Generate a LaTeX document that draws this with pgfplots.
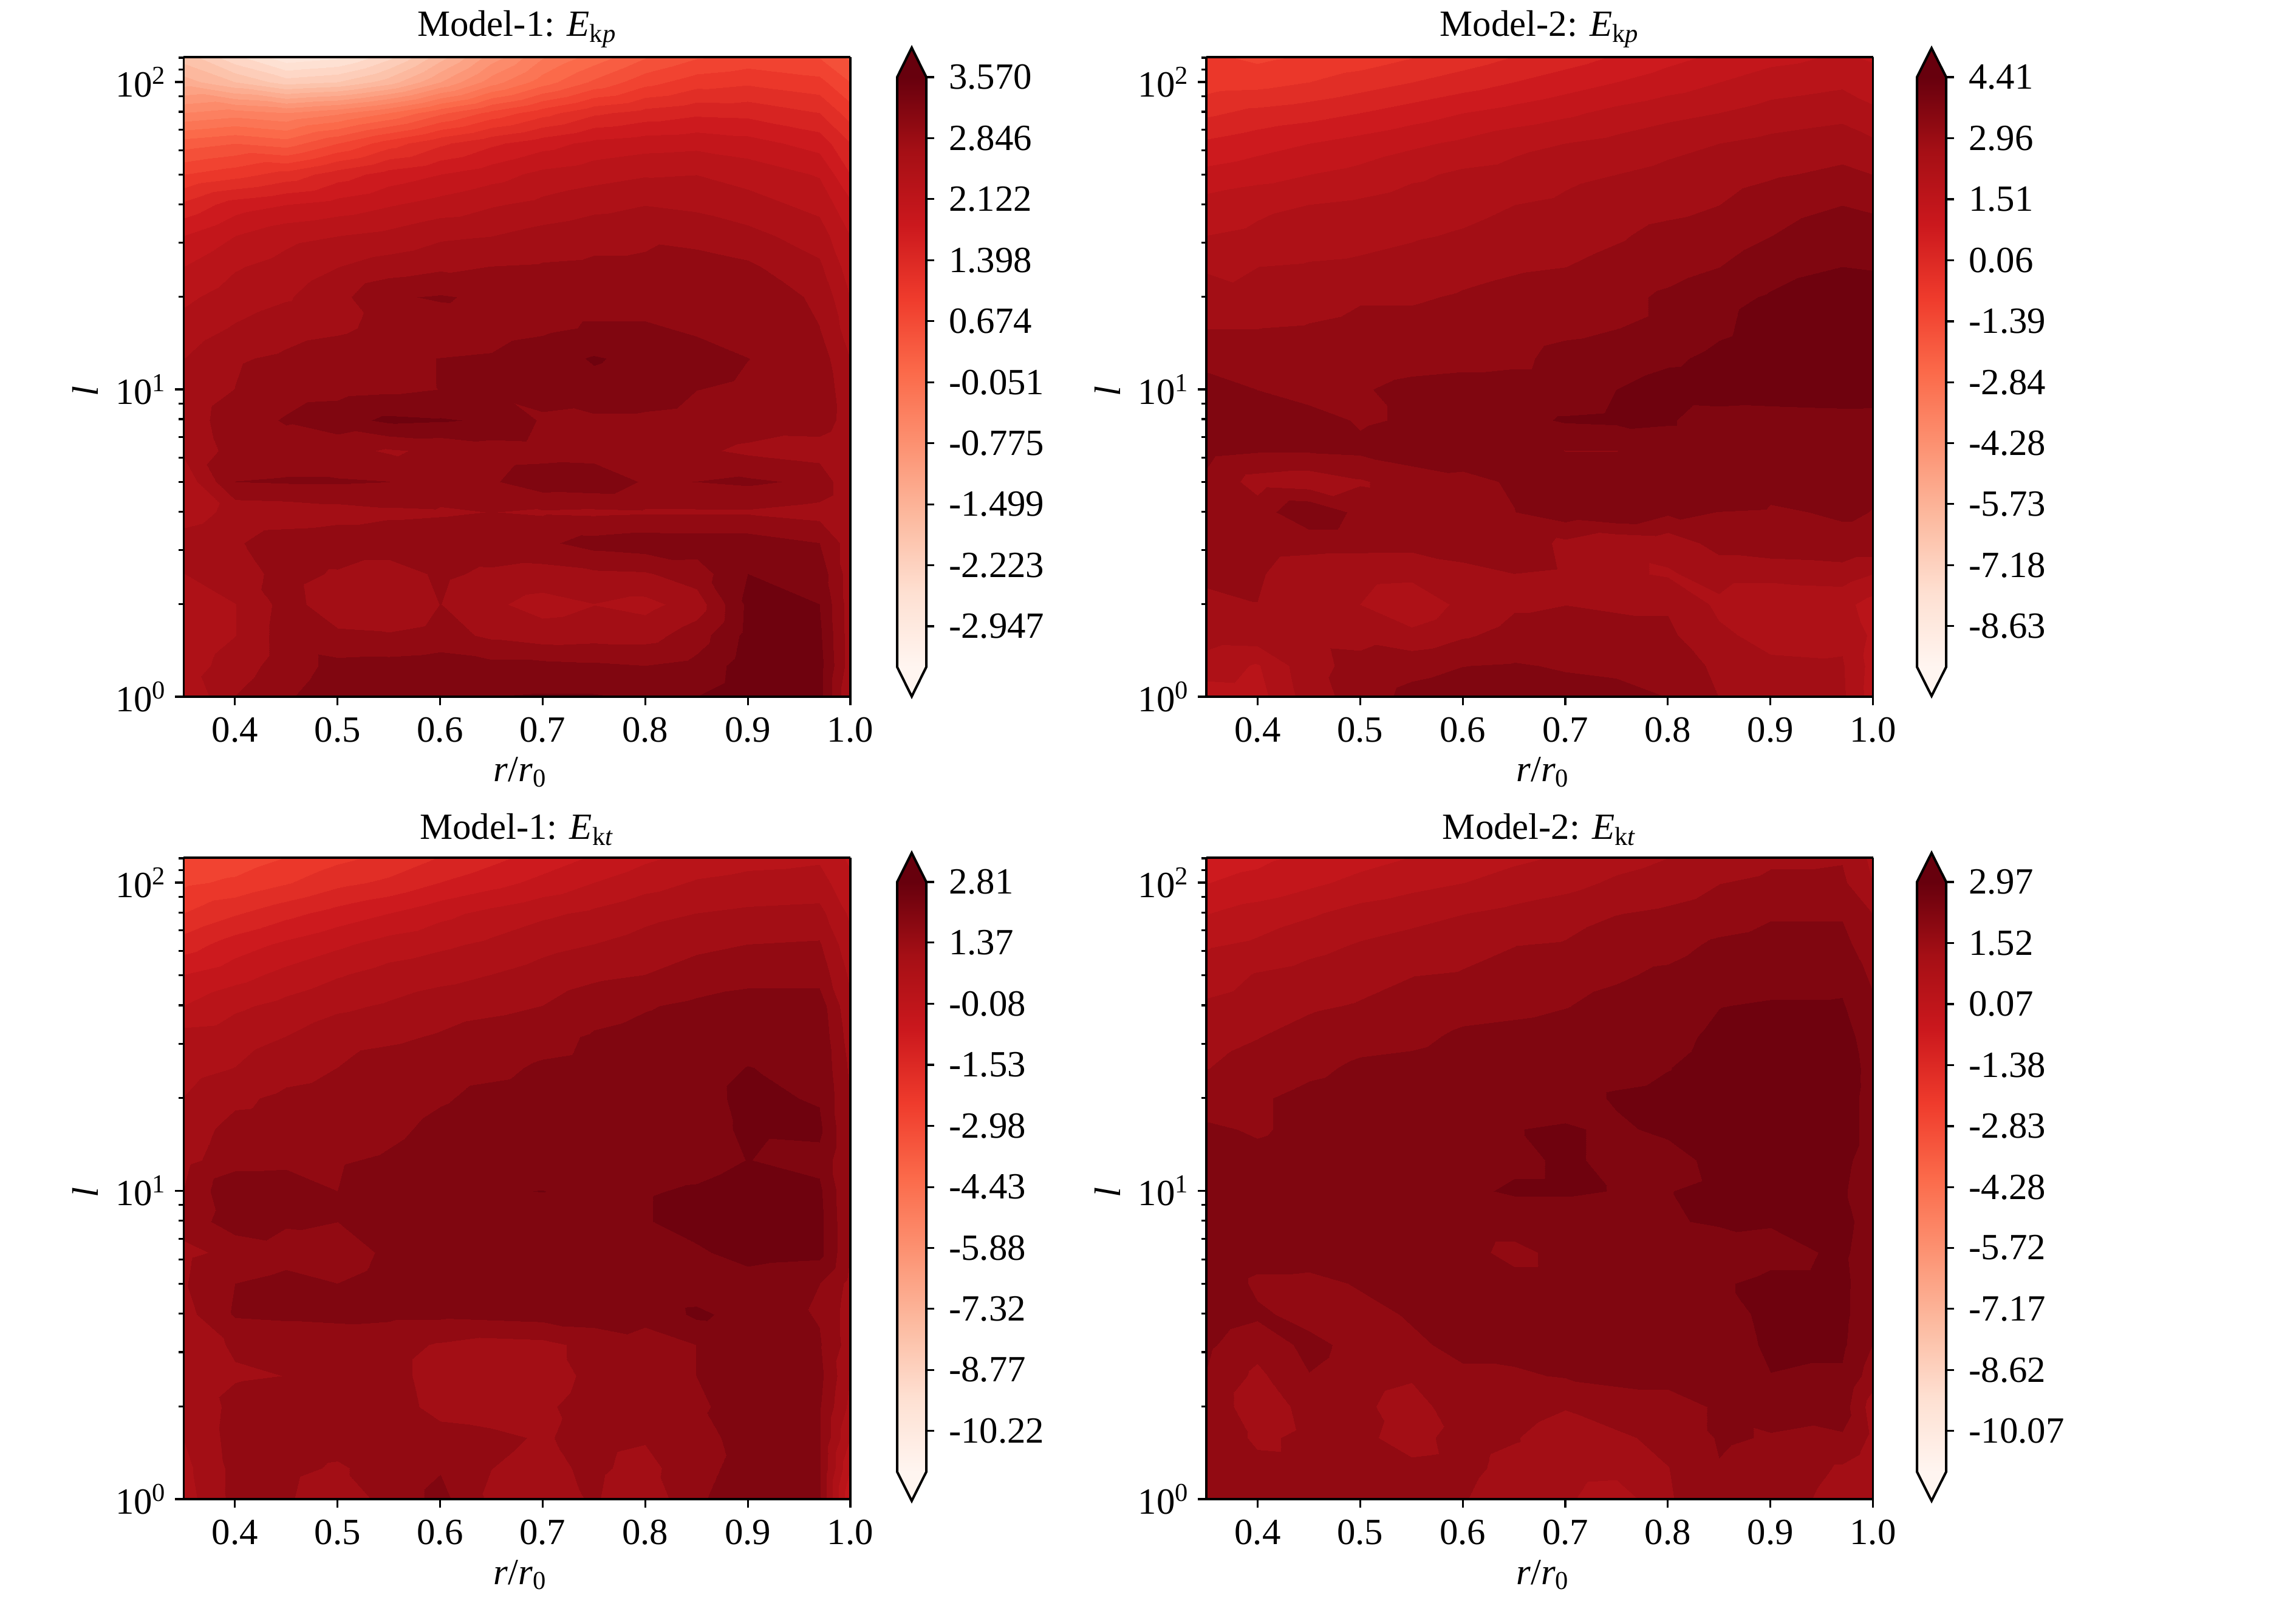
\documentclass[border=0pt]{standalone}
\usepackage{pgfplots}
\pgfplotsset{compat=1.18}
\usepgfplotslibrary{patchplots}
\usepackage{fontspec}
\setmainfont{Liberation Serif}
\pgfplotsset{
  colormap={Reds}{rgb255=(255,245,240) rgb255=(254,224,210) rgb255=(252,187,161) rgb255=(252,146,114) rgb255=(251,106,74) rgb255=(239,59,44) rgb255=(203,24,29) rgb255=(165,15,21) rgb255=(103,0,13)},
  colormap={RedsB}{rgb255(0cm)=(255,242,236); rgb255(1.117cm)=(254,224,210); rgb255(2.411cm)=(252,187,161); rgb255(3.706cm)=(252,146,114); rgb255(5cm)=(251,106,74); rgb255(6.295cm)=(239,59,44); rgb255(7.589cm)=(203,24,29); rgb255(8.883cm)=(165,15,21); rgb255(10cm)=(111,2,14)},
  colormap name=Reds,
  panelax/.style={
    colormap name=RedsB,
    scale only axis, width=274.4pt, anchor=south west,
    xmin=0.35, xmax=1.0, ymin=0, ymax=2.081, view={0}{90}, axis on top,
    tick pos=left, tick align=outside, major tick length=3.5pt, minor tick length=2.1pt,
    every tick/.style={black,line width=0.8pt}, axis line style={line width=0.9pt},
    xtick={0.4,0.5,0.6,0.7,0.8,0.9,1.0}, xticklabels={0.4,0.5,0.6,0.7,0.8,0.9,1.0},
    ytick={0,1,2}, yticklabels={10\textsuperscript{0},10\textsuperscript{1},10\textsuperscript{2}},
    minor ytick={0.301,0.477,0.602,0.699,0.778,0.845,0.903,0.954,1.301,1.477,1.602,1.699,1.778,1.845,1.903,1.954,2.041,2.079},
    xlabel={\textit{r}/\textit{r}\textsubscript{0}}, ylabel={\textit{l}},
    xlabel style={at={(axis description cs:0.505,-0.118)},anchor=center},
    ylabel style={at={(axis description cs:-0.148,0.478)},anchor=center},
    title style={at={(axis description cs:0.5,1.021)},anchor=center},
    ticklabel style={font=\fontsize{15.2}{18}\selectfont}, label style={font=\fontsize{15.2}{18}\selectfont},
    title style={font=\fontsize{15.2}{18}\selectfont},
    x tick label style={yshift=-1.5pt},
  },
  bandax/.style={
    scale only axis, width=12pt, height=242.75pt, anchor=south west, hide axis,
    xmin=0, xmax=1, ymin=0, ymax=1, view={0}{90},
  },
  cbarax/.style={
    scale only axis, width=12pt, height=242.75pt, anchor=south west,
    xmin=0, xmax=1, xtick=\empty, clip=false, axis line style={draw=none},
    ytick pos=right, yticklabel pos=right, tick align=outside, major tick length=3.3pt,
    every tick/.style={black,line width=0.8pt},
    y tick label style={font=\fontsize{15.2}{18}\selectfont,anchor=west,xshift=2.5pt},
  },
}
\begin{document}
\begin{tikzpicture}
\useasboundingbox (0pt,0pt) rectangle (945pt,659.5pt);
% ---------- Model-1 E_kp
\begin{axis}[panelax, height=263.25pt, at={(75.6pt,372.75pt)}, point meta min=-3.19, point meta max=3.81,
  title={Model-1: \textit{E}\textsubscript{k\textit{p}}}]
\addplot3[contour filled={number=29}, mesh/rows=22, mesh/cols=14] coordinates {
(.35,0,2.60)(.4,0,3.09)(.45,0,3.30)(.5,0,3.47)(.55,0,3.54)(.6,0,3.57)(.65,0,3.57)(.7,0,3.59)(.75,0,3.59)(.8,0,3.54)(.85,0,3.57)(.9,0,3.71)(.97,0,3.66)(1,0,2.84)
(.35,.1,2.72)(.4,.1,2.96)(.45,.1,3.21)(.5,.1,3.40)(.55,.1,3.42)(.6,.1,3.45)(.65,.1,3.40)(.7,.1,3.40)(.75,.1,3.37)(.8,.1,3.33)(.85,.1,3.40)(.9,.1,3.69)(.97,.1,3.66)(1,.1,2.96)
(.35,.2,2.67)(.4,.2,2.84)(.45,.2,3.21)(.5,.2,3.13)(.55,.2,3.11)(.6,.2,3.18)(.65,.2,3.04)(.7,.2,2.96)(.75,.2,2.99)(.8,.2,2.99)(.85,.2,3.21)(.9,.2,3.64)(.97,.2,3.62)(1,.2,2.96)
(.35,.3,2.72)(.4,.3,2.84)(.45,.3,3.18)(.5,.3,2.94)(.55,.3,2.87)(.6,.3,3.09)(.65,.3,2.89)(.7,.3,2.75)(.75,.3,2.84)(.8,.3,2.77)(.85,.3,2.96)(.9,.3,3.62)(.97,.3,3.57)(1,.3,2.96)
(.35,.4,2.84)(.4,.4,2.99)(.45,.4,3.16)(.5,.4,3.06)(.55,.4,2.96)(.6,.4,3.13)(.65,.4,3.04)(.7,.4,2.99)(.75,.4,3.04)(.8,.4,3.06)(.85,.4,3.21)(.9,.4,3.57)(.97,.4,3.47)(1,.4,2.96)
(.35,.5,2.96)(.4,.5,3.06)(.45,.5,3.21)(.5,.5,3.23)(.55,.5,3.23)(.6,.5,3.23)(.65,.5,3.25)(.7,.5,3.28)(.75,.5,3.42)(.8,.5,3.47)(.85,.5,3.45)(.9,.5,3.45)(.97,.5,3.33)(1,.5,2.96)
(.35,.6,2.72)(.4,.6,2.92)(.45,.6,2.94)(.5,.6,2.99)(.55,.6,3.04)(.6,.6,3.06)(.65,.6,3.09)(.7,.6,3.06)(.75,.6,3.04)(.8,.6,3.06)(.85,.6,3.06)(.9,.6,3.06)(.97,.6,2.99)(1,.6,2.84)
(.35,.7,2.67)(.4,.7,3.33)(.45,.7,3.35)(.5,.7,3.35)(.55,.7,3.33)(.6,.7,3.21)(.65,.7,3.30)(.7,.7,3.47)(.75,.7,3.50)(.8,.7,3.30)(.85,.7,3.33)(.9,.7,3.37)(.97,.7,3.28)(1,.7,2.84)
(.35,.8,2.89)(.4,.8,3.18)(.45,.8,3.21)(.5,.8,3.16)(.55,.8,3.06)(.6,.8,3.13)(.65,.8,3.21)(.7,.8,3.23)(.75,.8,3.21)(.8,.8,3.18)(.85,.8,3.13)(.9,.8,3.04)(.97,.8,2.96)(1,.8,2.84)
(.35,.9,2.96)(.4,.9,3.21)(.45,.9,3.35)(.5,.9,3.47)(.55,.9,3.62)(.6,.9,3.59)(.65,.9,3.54)(.7,.9,3.30)(.75,.9,3.28)(.8,.9,3.28)(.85,.9,3.25)(.9,.9,3.21)(.97,.9,3.23)(1,.9,2.96)
(.35,1,2.94)(.4,1,3.09)(.45,1,3.23)(.5,1,3.25)(.55,1,3.28)(.6,1,3.33)(.65,1,3.35)(.7,1,3.40)(.75,1,3.50)(.8,1,3.45)(.85,1,3.33)(.9,1,3.30)(.97,1,3.25)(1,1,2.92)
(.35,1.1,2.84)(.4,1.1,3.06)(.45,1.1,3.13)(.5,1.1,3.23)(.55,1.1,3.30)(.6,1.1,3.33)(.65,1.1,3.35)(.7,1.1,3.47)(.75,1.1,3.59)(.8,1.1,3.50)(.85,1.1,3.40)(.9,1.1,3.33)(.97,1.1,3.21)(1,1.1,2.84)
(.35,1.2,2.70)(.4,1.2,2.87)(.45,1.2,2.99)(.5,1.2,3.04)(.55,1.2,3.16)(.6,1.2,3.21)(.65,1.2,3.23)(.7,1.2,3.28)(.75,1.2,3.35)(.8,1.2,3.35)(.85,1.2,3.30)(.9,1.2,3.23)(.97,1.2,3.09)(1,1.2,2.72)
(.35,1.3,2.55)(.4,1.3,2.72)(.45,1.3,2.82)(.5,1.3,3.01)(.55,1.3,3.30)(.6,1.3,3.35)(.65,1.3,3.28)(.7,1.3,3.25)(.75,1.3,3.25)(.8,1.3,3.25)(.85,1.3,3.30)(.9,1.3,3.25)(.97,1.3,3.04)(1,1.3,2.60)
(.35,1.4,2.36)(.4,1.4,2.58)(.45,1.4,2.70)(.5,1.4,2.84)(.55,1.4,2.96)(.6,1.4,3.04)(.65,1.4,3.09)(.7,1.4,3.11)(.75,1.4,3.13)(.8,1.4,3.13)(.85,1.4,3.21)(.9,1.4,3.13)(.97,1.4,2.89)(1,1.4,2.48)
(.35,1.5,2.12)(.4,1.5,2.36)(.45,1.5,2.53)(.5,1.5,2.60)(.55,1.5,2.67)(.6,1.5,2.80)(.65,1.5,2.84)(.7,1.5,2.94)(.75,1.5,3.01)(.8,1.5,3.04)(.85,1.5,2.99)(.9,1.5,2.92)(.97,1.5,2.72)(1,1.5,2.36)
(.35,1.6,1.69)(.4,1.6,2.00)(.45,1.6,2.12)(.5,1.6,2.22)(.55,1.6,2.34)(.6,1.6,2.46)(.65,1.6,2.58)(.7,1.6,2.67)(.75,1.6,2.77)(.8,1.6,2.84)(.85,1.6,2.80)(.9,1.6,2.70)(.97,1.6,2.53)(1,1.6,2.17)
(.35,1.7,1.15)(.4,1.7,1.30)(.45,1.7,1.49)(.5,1.7,1.76)(.55,1.7,1.98)(.6,1.7,2.12)(.65,1.7,2.26)(.7,1.7,2.43)(.75,1.7,2.51)(.8,1.7,2.58)(.85,1.7,2.60)(.9,1.7,2.51)(.97,1.7,2.34)(1,1.7,1.88)
(.35,1.8,.55)(.4,1.8,.67)(.45,1.8,.55)(.5,1.8,.91)(.55,1.8,1.28)(.6,1.8,1.59)(.65,1.8,1.83)(.7,1.8,2.02)(.75,1.8,2.19)(.8,1.8,2.26)(.85,1.8,2.29)(.9,1.8,2.22)(.97,1.8,2.02)(1,1.8,1.64)
(.35,1.9,-.29)(.4,1.9,-.17)(.45,1.9,-.29)(.5,1.9,-.10)(.55,1.9,.19)(.6,1.9,.62)(.65,1.9,.99)(.7,1.9,1.30)(.75,1.9,1.59)(.8,1.9,1.73)(.85,1.9,1.83)(.9,1.9,1.81)(.97,1.9,1.64)(1,1.9,1.28)
(.35,2,-1.14)(.4,2,-1.50)(.45,2,-1.86)(.5,2,-1.74)(.55,2,-1.38)(.6,2,-.78)(.65,2,-.17)(.7,2,.31)(.75,2,.72)(.8,2,1.06)(.85,2,1.28)(.9,2,1.35)(.97,2,1.23)(1,2,.91)
(.35,2.1,-1.74)(.4,2.1,-2.34)(.45,2.1,-2.83)(.5,2.1,-2.71)(.55,2.1,-2.22)(.6,2.1,-1.50)(.65,2.1,-.78)(.7,2.1,-.17)(.75,2.1,.19)(.8,2.1,.55)(.85,2.1,.79)(.9,2.1,.91)(.97,2.1,.82)(1,2.1,.55)
};
\end{axis}
% ---------- Model-2 E_kp
\begin{axis}[panelax, height=263.25pt, at={(496.5pt,372.75pt)}, point meta min=-9.113, point meta max=4.893,
  title={Model-2: \textit{E}\textsubscript{k\textit{p}}}]
\addplot3[contour filled={number=29}, mesh/rows=22, mesh/cols=14] coordinates {
(.35,0,2.23)(.4,0,2.28)(.45,0,3.20)(.5,0,3.68)(.55,0,4.07)(.6,0,4.17)(.65,0,4.17)(.7,0,4.12)(.75,0,4.07)(.8,0,3.92)(.85,0,3.44)(.9,0,3.10)(.97,0,3.05)(1,0,2.23)
(.35,.1,2.72)(.4,.1,2.43)(.45,.1,3.30)(.5,.1,3.59)(.55,.1,3.78)(.6,.1,3.92)(.65,.1,3.97)(.7,.1,3.88)(.75,.1,3.83)(.8,.1,3.73)(.85,.1,3.34)(.9,.1,3.05)(.97,.1,3.01)(1,.1,2.28)
(.35,.2,3.20)(.4,.2,3.25)(.45,.2,3.34)(.5,.2,3.30)(.55,.2,3.10)(.6,.2,3.39)(.65,.2,3.59)(.7,.2,3.59)(.75,.2,3.59)(.8,.2,3.54)(.85,.2,3.05)(.9,.2,2.81)(.97,.2,2.86)(1,.2,2.38)
(.35,.3,3.39)(.4,.3,3.44)(.45,.3,3.15)(.5,.3,2.96)(.55,.3,2.57)(.6,.3,3.10)(.65,.3,3.39)(.7,.3,3.44)(.75,.3,3.39)(.8,.3,3.39)(.85,.3,2.86)(.9,.3,2.48)(.97,.3,2.62)(1,.3,2.28)
(.35,.4,3.49)(.4,.4,3.49)(.45,.4,3.20)(.5,.4,3.15)(.55,.4,3.10)(.6,.4,3.30)(.65,.4,3.44)(.7,.4,3.39)(.75,.4,3.05)(.8,.4,2.91)(.85,.4,3.15)(.9,.4,3.15)(.97,.4,3.20)(1,.4,2.96)
(.35,.5,3.59)(.4,.5,3.63)(.45,.5,3.59)(.5,.5,3.59)(.55,.5,3.59)(.6,.5,3.68)(.65,.5,3.73)(.7,.5,3.34)(.75,.5,3.05)(.8,.5,3.15)(.85,.5,3.63)(.9,.5,3.73)(.97,.5,3.83)(1,.5,3.83)
(.35,.6,3.59)(.4,.6,3.68)(.45,.6,4.36)(.5,.6,3.78)(.55,.6,3.68)(.6,.6,3.73)(.65,.6,3.92)(.7,.6,4.21)(.75,.6,4.41)(.8,.6,4.02)(.85,.6,3.92)(.9,.6,3.88)(.97,.6,3.97)(1,.6,3.92)
(.35,.7,3.83)(.4,.7,3.25)(.45,.7,3.15)(.5,.7,3.39)(.55,.7,3.68)(.6,.7,3.83)(.65,.7,3.97)(.7,.7,4.12)(.75,.7,4.12)(.8,.7,4.36)(.85,.7,4.41)(.9,.7,4.07)(.97,.7,4.02)(1,.7,3.97)
(.35,.8,4.07)(.4,.8,3.97)(.45,.8,3.97)(.5,.8,4.02)(.55,.8,4.17)(.6,.8,4.12)(.65,.8,4.21)(.7,.8,3.92)(.75,.8,3.92)(.8,.8,4.17)(.85,.8,4.17)(.9,.8,4.12)(.97,.8,4.41)(1,.8,4.41)
(.35,.9,4.17)(.4,.9,4.17)(.45,.9,4.12)(.5,.9,3.88)(.55,.9,3.97)(.6,.9,4.02)(.65,.9,4.26)(.7,.9,4.46)(.75,.9,4.50)(.8,.9,4.46)(.85,.9,4.17)(.9,.9,4.12)(.97,.9,4.17)(1,.9,4.17)
(.35,1,4.36)(.4,1,3.92)(.45,1,3.73)(.5,1,3.88)(.55,1,4.07)(.6,1,4.12)(.65,1,4.12)(.7,1,4.12)(.75,1,4.41)(.8,1,4.65)(.85,1,4.70)(.9,1,4.75)(.97,1,4.79)(1,1,4.75)
(.35,1.1,3.59)(.4,1.1,3.63)(.45,1.1,3.63)(.5,1.1,3.63)(.55,1.1,3.73)(.6,1.1,3.78)(.65,1.1,3.83)(.7,1.1,4.07)(.75,1.1,4.12)(.8,1.1,4.31)(.85,1.1,4.55)(.9,1.1,4.70)(.97,1.1,4.79)(1,1.1,4.79)
(.35,1.2,3.44)(.4,1.2,3.44)(.45,1.2,3.49)(.5,1.2,3.59)(.55,1.2,3.59)(.6,1.2,3.68)(.65,1.2,3.73)(.7,1.2,3.83)(.75,1.2,3.92)(.8,1.2,4.02)(.85,1.2,4.31)(.9,1.2,4.65)(.97,1.2,4.79)(1,1.2,4.79)
(.35,1.3,3.15)(.4,1.3,3.01)(.45,1.3,3.20)(.5,1.3,3.39)(.55,1.3,3.39)(.6,1.3,3.49)(.65,1.3,3.59)(.7,1.3,3.68)(.75,1.3,3.78)(.8,1.3,4.02)(.85,1.3,4.26)(.9,1.3,4.46)(.97,1.3,4.75)(1,1.3,4.75)
(.35,1.4,2.91)(.4,1.4,2.96)(.45,1.4,3.01)(.5,1.4,3.05)(.55,1.4,3.15)(.6,1.4,3.30)(.65,1.4,3.39)(.7,1.4,3.44)(.75,1.4,3.59)(.8,1.4,3.73)(.85,1.4,3.92)(.9,1.4,4.21)(.97,1.4,4.41)(1,1.4,4.36)
(.35,1.5,2.48)(.4,1.5,2.57)(.45,1.5,2.72)(.5,1.5,2.81)(.55,1.5,2.91)(.6,1.5,3.01)(.65,1.5,3.15)(.7,1.5,3.25)(.75,1.5,3.39)(.8,1.5,3.59)(.85,1.5,3.68)(.9,1.5,3.92)(.97,1.5,4.26)(1,1.5,4.17)
(.35,1.6,2.19)(.4,1.6,2.38)(.45,1.6,2.48)(.5,1.6,2.57)(.55,1.6,2.72)(.6,1.6,2.81)(.65,1.6,2.96)(.7,1.6,3.05)(.75,1.6,3.20)(.8,1.6,3.30)(.85,1.6,3.44)(.9,1.6,3.68)(.97,1.6,3.92)(1,1.6,3.83)
(.35,1.7,1.65)(.4,1.7,1.80)(.45,1.7,1.99)(.5,1.7,2.14)(.55,1.7,2.38)(.6,1.7,2.57)(.65,1.7,2.67)(.7,1.7,2.86)(.75,1.7,2.96)(.8,1.7,3.10)(.85,1.7,3.25)(.9,1.7,3.39)(.97,1.7,3.54)(1,1.7,3.44)
(.35,1.8,1.12)(.4,1.8,1.32)(.45,1.8,1.51)(.5,1.8,1.70)(.55,1.8,1.90)(.6,1.8,2.09)(.65,1.8,2.33)(.7,1.8,2.48)(.75,1.8,2.62)(.8,1.8,2.81)(.85,1.8,2.96)(.9,1.8,3.10)(.97,1.8,3.25)(1,1.8,3.05)
(.35,1.9,.45)(.4,1.9,.69)(.45,1.9,.83)(.5,1.9,1.03)(.55,1.9,1.27)(.6,1.9,1.51)(.65,1.9,1.70)(.7,1.9,1.90)(.75,1.9,2.14)(.8,1.9,2.33)(.85,1.9,2.48)(.9,1.9,2.67)(.97,1.9,2.81)(1,1.9,2.57)
(.35,2,-.18)(.4,2,-.13)(.45,2,.06)(.5,2,.30)(.55,2,.54)(.6,2,.78)(.65,2,1.03)(.7,2,1.27)(.75,2,1.51)(.8,2,1.75)(.85,2,1.99)(.9,2,2.23)(.97,2,2.38)(1,2,2.23)
(.35,2.1,-.42)(.4,2.1,-.62)(.45,2.1,-.47)(.5,2.1,-.33)(.55,2.1,-.08)(.6,2.1,.16)(.65,2.1,.45)(.7,2.1,.69)(.75,2.1,.98)(.8,2.1,1.27)(.85,2.1,1.51)(.9,2.1,1.75)(.97,2.1,1.99)(1,2.1,1.85)
};
\end{axis}
% ---------- Model-1 E_kt
\begin{axis}[panelax, height=264pt, at={(75.6pt,42.5pt)}, point meta min=-10.702, point meta max=3.293,
  title={Model-1: \textit{E}\textsubscript{k\textit{t}}}]
\addplot3[contour filled={number=29}, mesh/rows=22, mesh/cols=14] coordinates {
(.35,0,1.13)(.4,0,2.00)(.45,0,1.90)(.5,0,1.56)(.55,0,2.00)(.6,0,2.48)(.65,0,1.75)(.7,0,1.61)(.75,0,1.90)(.8,0,1.46)(.85,0,2.29)(.9,0,2.48)(.97,0,2.43)(1,0,-.08)
(.35,.1,1.22)(.4,.1,2.00)(.45,.1,1.95)(.5,.1,1.80)(.55,.1,2.00)(.6,.1,2.29)(.65,.1,1.85)(.7,.1,1.71)(.75,.1,1.95)(.8,.1,1.66)(.85,.1,2.24)(.9,.1,2.43)(.97,.1,2.38)(1,.1,.40)
(.35,.2,1.37)(.4,.2,2.04)(.45,.2,2.04)(.5,.2,2.00)(.55,.2,2.04)(.6,.2,2.00)(.65,.2,1.95)(.7,.2,1.80)(.75,.2,2.00)(.8,.2,1.90)(.85,.2,2.19)(.9,.2,2.48)(.97,.2,2.38)(1,.2,.89)
(.35,.3,1.42)(.4,.3,2.00)(.45,.3,2.09)(.5,.3,2.09)(.55,.3,2.04)(.6,.3,1.71)(.65,.3,1.61)(.7,.3,1.75)(.75,.3,2.09)(.8,.3,2.14)(.85,.3,2.29)(.9,.3,2.43)(.97,.3,2.38)(1,.3,1.22)
(.35,.4,1.51)(.4,.4,1.80)(.45,.4,1.85)(.5,.4,2.04)(.55,.4,2.00)(.6,.4,1.66)(.65,.4,1.51)(.7,.4,1.56)(.75,.4,2.00)(.8,.4,2.09)(.85,.4,2.33)(.9,.4,2.43)(.97,.4,2.48)(1,.4,1.37)
(.35,.5,1.61)(.4,.5,1.90)(.45,.5,1.95)(.5,.5,1.95)(.55,.5,2.00)(.6,.5,1.80)(.65,.5,1.66)(.7,.5,1.71)(.75,.5,2.00)(.8,.5,2.19)(.85,.5,2.33)(.9,.5,2.43)(.97,.5,2.38)(1,.5,1.61)
(.35,.6,1.66)(.4,.6,2.38)(.45,.6,2.43)(.5,.6,2.48)(.55,.6,2.43)(.6,.6,2.43)(.65,.6,2.48)(.7,.6,2.53)(.75,.6,2.58)(.8,.6,2.43)(.85,.6,2.91)(.9,.6,2.62)(.97,.6,2.29)(1,.6,1.61)
(.35,.7,1.80)(.4,.7,2.33)(.45,.7,2.48)(.5,.7,2.33)(.55,.7,2.43)(.6,.7,2.48)(.65,.7,2.48)(.7,.7,2.48)(.75,.7,2.48)(.8,.7,2.48)(.85,.7,2.53)(.9,.7,2.53)(.97,.7,2.33)(1,.7,1.71)
(.35,.8,1.75)(.4,.8,1.95)(.45,.8,2.14)(.5,.8,2.19)(.55,.8,2.38)(.6,.8,2.48)(.65,.8,2.48)(.7,.8,2.53)(.75,.8,2.53)(.8,.8,2.53)(.85,.8,2.72)(.9,.8,3.04)(.97,.8,2.96)(1,.8,1.85)
(.35,.9,2.00)(.4,.9,2.62)(.45,.9,2.38)(.5,.9,2.33)(.55,.9,2.48)(.6,.9,2.58)(.65,.9,2.62)(.7,.9,2.58)(.75,.9,2.58)(.8,.9,2.77)(.85,.9,3.04)(.9,.9,3.11)(.97,.9,2.96)(1,.9,1.85)
(.35,1,1.85)(.4,1,2.77)(.45,1,2.77)(.5,1,2.33)(.55,1,2.58)(.6,1,2.62)(.65,1,2.77)(.7,1,2.82)(.75,1,2.67)(.8,1,2.77)(.85,1,2.87)(.9,1,3.04)(.97,1,2.91)(1,1,1.85)
(.35,1.1,1.71)(.4,1.1,2.09)(.45,1.1,2.14)(.5,1.1,2.29)(.55,1.1,2.38)(.6,1.1,2.53)(.65,1.1,2.53)(.7,1.1,2.58)(.75,1.1,2.58)(.8,1.1,2.58)(.85,1.1,2.62)(.9,1.1,2.82)(.97,1.1,2.67)(1,1.1,1.85)
(.35,1.2,1.61)(.4,1.2,2.00)(.45,1.2,2.04)(.5,1.2,2.09)(.55,1.2,2.24)(.6,1.2,2.43)(.65,1.2,2.53)(.7,1.2,2.53)(.75,1.2,2.58)(.8,1.2,2.58)(.85,1.2,2.67)(.9,1.2,2.87)(.97,1.2,2.91)(1,1.2,1.85)
(.35,1.3,1.37)(.4,1.3,1.75)(.45,1.3,1.95)(.5,1.3,2.04)(.55,1.3,2.14)(.6,1.3,2.29)(.65,1.3,2.43)(.7,1.3,2.48)(.75,1.3,2.53)(.8,1.3,2.53)(.85,1.3,2.67)(.9,1.3,2.91)(.97,1.3,2.77)(1,1.3,1.85)
(.35,1.4,1.17)(.4,1.4,1.37)(.45,1.4,1.66)(.5,1.4,1.85)(.55,1.4,2.09)(.6,1.4,2.19)(.65,1.4,2.24)(.7,1.4,2.38)(.75,1.4,2.43)(.8,1.4,2.53)(.85,1.4,2.67)(.9,1.4,2.82)(.97,1.4,2.72)(1,1.4,1.75)
(.35,1.5,1.08)(.4,1.5,1.17)(.45,1.5,1.37)(.5,1.5,1.66)(.55,1.5,1.75)(.6,1.5,1.90)(.65,1.5,2.09)(.7,1.5,2.19)(.75,1.5,2.38)(.8,1.5,2.48)(.85,1.5,2.58)(.9,1.5,2.67)(.97,1.5,2.67)(1,1.5,1.61)
(.35,1.6,.40)(.4,1.6,.79)(.45,1.6,1.03)(.5,1.6,1.27)(.55,1.6,1.42)(.6,1.6,1.61)(.65,1.6,1.71)(.7,1.6,1.85)(.75,1.6,2.14)(.8,1.6,2.29)(.85,1.6,2.43)(.9,1.6,2.58)(.97,1.6,2.58)(1,1.6,1.46)
(.35,1.7,-.08)(.4,1.7,.21)(.45,1.7,.55)(.5,1.7,.84)(.55,1.7,1.08)(.6,1.7,1.22)(.65,1.7,1.37)(.7,1.7,1.56)(.75,1.7,1.75)(.8,1.7,1.85)(.85,1.7,2.04)(.9,1.7,2.14)(.97,1.7,2.14)(1,1.7,1.27)
(.35,1.8,-.81)(.4,1.8,-.32)(.45,1.8,.02)(.5,1.8,.31)(.55,1.8,.60)(.6,1.8,.79)(.65,1.8,.98)(.7,1.8,1.22)(.75,1.8,1.37)(.8,1.8,1.56)(.85,1.8,1.75)(.9,1.8,1.85)(.97,1.8,1.90)(1,1.8,1.03)
(.35,1.9,-1.53)(.4,1.9,-1.10)(.45,1.9,-.71)(.5,1.9,-.37)(.55,1.9,-.08)(.6,1.9,.26)(.65,1.9,.55)(.7,1.9,.79)(.75,1.9,.98)(.8,1.9,1.22)(.85,1.9,1.37)(.9,1.9,1.46)(.97,1.9,1.51)(1,1.9,.79)
(.35,2,-2.11)(.4,2,-1.92)(.45,2,-1.58)(.5,2,-1.19)(.55,2,-.95)(.6,2,-.56)(.65,2,-.27)(.7,2,.06)(.75,2,.40)(.8,2,.69)(.85,2,.93)(.9,2,1.03)(.97,2,1.08)(1,2,.50)
(.35,2.1,-2.50)(.4,2.1,-2.40)(.45,2.1,-2.11)(.5,2.1,-1.77)(.55,2.1,-1.53)(.6,2.1,-1.14)(.65,2.1,-.81)(.7,2.1,-.47)(.75,2.1,-.13)(.8,2.1,.21)(.85,2.1,.50)(.9,2.1,.64)(.97,2.1,.74)(1,2.1,.26)
};
\end{axis}
% ---------- Model-2 E_kt
\begin{axis}[panelax, height=264pt, at={(496.5pt,42.5pt)}, point meta min=-10.557, point meta max=3.453,
  title={Model-2: \textit{E}\textsubscript{k\textit{t}}}]
\addplot3[contour filled={number=29}, mesh/rows=22, mesh/cols=14] coordinates {
(.35,0,2.47)(.4,0,2.14)(.45,0,2.04)(.5,0,2.04)(.55,0,2.04)(.6,0,2.04)(.65,0,1.70)(.7,0,1.60)(.75,0,1.22)(.8,0,1.94)(.85,0,2.47)(.9,0,2.28)(.97,0,1.80)(1,0,1.65)
(.35,.1,2.47)(.4,.1,2.18)(.45,.1,2.14)(.5,.1,2.09)(.55,.1,2.09)(.6,.1,2.14)(.65,.1,1.85)(.7,.1,1.75)(.75,.1,1.70)(.8,.1,1.99)(.85,.1,2.47)(.9,.1,2.38)(.97,.1,1.94)(1,.1,1.65)
(.35,.2,2.47)(.4,.2,1.89)(.45,.2,2.14)(.5,.2,2.09)(.55,.2,1.85)(.6,.2,2.18)(.65,.2,2.04)(.7,.2,1.70)(.75,.2,1.89)(.8,.2,2.18)(.85,.2,2.52)(.9,.2,2.47)(.97,.2,2.43)(1,.2,1.89)
(.35,.3,2.47)(.4,.3,1.60)(.45,.3,2.23)(.5,.3,2.14)(.55,.3,1.70)(.6,.3,2.43)(.65,.3,2.28)(.7,.3,2.04)(.75,.3,2.33)(.8,.3,2.38)(.85,.3,2.52)(.9,.3,2.57)(.97,.3,2.72)(1,.3,1.75)
(.35,.4,2.47)(.4,.4,1.89)(.45,.4,2.47)(.5,.4,2.28)(.55,.4,2.09)(.6,.4,2.43)(.65,.4,2.43)(.7,.4,2.52)(.75,.4,2.57)(.8,.4,2.57)(.85,.4,2.72)(.9,.4,2.96)(.97,.4,2.91)(1,.4,2.23)
(.35,.5,2.57)(.4,.5,2.18)(.45,.5,2.62)(.5,.5,2.33)(.55,.5,2.43)(.6,.5,2.57)(.65,.5,2.62)(.7,.5,2.67)(.75,.5,2.67)(.8,.5,2.67)(.85,.5,2.72)(.9,.5,3.05)(.97,.5,3.05)(1,.5,2.47)
(.35,.6,2.76)(.4,.6,2.57)(.45,.6,2.33)(.5,.6,2.38)(.55,.6,2.52)(.6,.6,2.67)(.65,.6,2.67)(.7,.6,2.67)(.75,.6,2.67)(.8,.6,2.72)(.85,.6,2.76)(.9,.6,3.10)(.97,.6,3.10)(1,.6,2.57)
(.35,.7,2.96)(.4,.7,2.38)(.45,.7,2.38)(.5,.7,2.52)(.55,.7,2.62)(.6,.7,2.67)(.65,.7,2.67)(.7,.7,2.67)(.75,.7,2.67)(.8,.7,2.72)(.85,.7,2.91)(.9,.7,3.10)(.97,.7,3.10)(1,.7,2.62)
(.35,.8,2.96)(.4,.8,2.72)(.45,.8,2.67)(.5,.8,2.62)(.55,.8,2.91)(.6,.8,2.67)(.65,.8,2.33)(.7,.8,2.67)(.75,.8,2.72)(.8,.8,2.67)(.85,.8,2.57)(.9,.8,2.81)(.97,.8,3.05)(1,.8,2.72)
(.35,.9,2.96)(.4,.9,2.76)(.45,.9,2.72)(.5,.9,2.76)(.55,.9,2.96)(.6,.9,2.76)(.65,.9,2.76)(.7,.9,2.76)(.75,.9,2.76)(.8,.9,2.91)(.85,.9,3.05)(.9,.9,3.01)(.97,.9,3.10)(1,.9,2.76)
(.35,1,2.72)(.4,1,2.72)(.45,1,2.76)(.5,1,2.76)(.55,1,2.81)(.6,1,2.91)(.65,1,3.01)(.7,1,3.01)(.75,1,2.96)(.8,1,2.96)(.85,1,3.05)(.9,1,3.01)(.97,1,3.01)(1,1,2.76)
(.35,1.1,2.62)(.4,1.1,2.62)(.45,1.1,2.72)(.5,1.1,2.76)(.55,1.1,2.81)(.6,1.1,2.81)(.65,1.1,2.91)(.7,1.1,3.01)(.75,1.1,2.91)(.8,1.1,2.81)(.85,1.1,3.10)(.9,1.1,3.10)(.97,1.1,3.05)(1,1.1,2.81)
(.35,1.2,2.57)(.4,1.2,2.43)(.45,1.2,2.62)(.5,1.2,2.72)(.55,1.2,2.76)(.6,1.2,2.81)(.65,1.2,2.96)(.7,1.2,3.01)(.75,1.2,2.91)(.8,1.2,3.05)(.85,1.2,3.15)(.9,1.2,3.15)(.97,1.2,3.15)(1,1.2,2.81)
(.35,1.3,2.23)(.4,1.3,2.43)(.45,1.3,2.62)(.5,1.3,2.72)(.55,1.3,2.72)(.6,1.3,2.72)(.65,1.3,2.76)(.7,1.3,2.81)(.75,1.3,3.01)(.8,1.3,3.05)(.85,1.3,3.10)(.9,1.3,3.15)(.97,1.3,3.15)(1,1.3,2.81)
(.35,1.4,1.99)(.4,1.4,2.18)(.45,1.4,2.38)(.5,1.4,2.57)(.55,1.4,2.62)(.6,1.4,2.72)(.65,1.4,2.67)(.7,1.4,2.81)(.75,1.4,2.86)(.8,1.4,2.96)(.85,1.4,3.10)(.9,1.4,3.15)(.97,1.4,3.20)(1,1.4,2.81)
(.35,1.5,1.85)(.4,1.5,1.99)(.45,1.5,2.18)(.5,1.5,2.33)(.55,1.5,2.38)(.6,1.5,2.57)(.65,1.5,2.62)(.7,1.5,2.67)(.75,1.5,2.76)(.8,1.5,2.86)(.85,1.5,3.05)(.9,1.5,3.15)(.97,1.5,3.15)(1,1.5,2.72)
(.35,1.6,1.60)(.4,1.6,1.75)(.45,1.6,1.94)(.5,1.6,2.04)(.55,1.6,2.18)(.6,1.6,2.33)(.65,1.6,2.38)(.7,1.6,2.47)(.75,1.6,2.62)(.8,1.6,2.76)(.85,1.6,2.96)(.9,1.6,3.01)(.97,1.6,3.01)(1,1.6,2.57)
(.35,1.7,1.27)(.4,1.7,1.56)(.45,1.7,1.70)(.5,1.7,1.85)(.55,1.7,1.99)(.6,1.7,2.04)(.65,1.7,2.18)(.7,1.7,2.33)(.75,1.7,2.43)(.8,1.7,2.57)(.85,1.7,2.76)(.9,1.7,2.81)(.97,1.7,2.86)(1,1.7,2.38)
(.35,1.8,.98)(.4,1.8,1.12)(.45,1.8,1.36)(.5,1.8,1.56)(.55,1.8,1.70)(.6,1.8,1.85)(.65,1.8,1.99)(.7,1.8,2.04)(.75,1.8,2.28)(.8,1.8,2.33)(.85,1.8,2.57)(.9,1.8,2.67)(.97,1.8,2.67)(1,1.8,2.09)
(.35,1.9,.54)(.4,1.9,.78)(.45,1.9,.98)(.5,1.9,1.22)(.55,1.9,1.36)(.6,1.9,1.51)(.65,1.9,1.65)(.7,1.9,1.80)(.75,1.9,1.99)(.8,1.9,2.09)(.85,1.9,2.23)(.9,1.9,2.43)(.97,1.9,2.43)(1,1.9,1.99)
(.35,2,.06)(.4,2,.20)(.45,2,.45)(.5,2,.69)(.55,2,.88)(.6,2,1.03)(.65,2,1.22)(.7,2,1.36)(.75,2,1.60)(.8,2,1.75)(.85,2,1.99)(.9,2,2.09)(.97,2,2.09)(1,2,1.51)
(.35,2.1,-.18)(.4,2.1,-.09)(.45,2.1,.06)(.5,2.1,.30)(.55,2.1,.49)(.6,2.1,.69)(.65,2.1,.88)(.7,2.1,1.03)(.75,2.1,1.27)(.8,2.1,1.46)(.85,2.1,1.70)(.9,2.1,1.89)(.97,2.1,1.94)(1,2.1,1.36)
};
\end{axis}
% ---------- colour bars
\begin{axis}[bandax, at={(369.25pt,385pt)}, point meta min=-3.43, point meta max=3.57]
\addplot3[surf, shader=interp, mesh/rows=2, mesh/cols=2] coordinates {(0,0,-3.43)(1,0,-3.43)(0,1,3.57)(1,1,3.57)};
\end{axis}
\begin{axis}[cbarax, at={(369.25pt,385pt)}, ymin=-3.43, ymax=3.57,
 ytick={-2.947,-2.223,-1.499,-0.775,-0.051,0.674,1.398,2.122,2.846,3.570},
 yticklabels={-2.947,-2.223,-1.499,-0.775,-0.051,0.674,1.398,2.122,2.846,3.570}]
\addplot[draw=none,fill={rgb,255:red,103;green,0;blue,13}] coordinates {(0,3.57)(0.5,3.92)(1,3.57)} -- cycle;
\addplot[draw=none,fill={rgb,255:red,255;green,245;blue,240}] coordinates {(0,-3.43)(0.5,-3.78)(1,-3.43)} -- cycle;
\addplot[black,line width=1pt] coordinates {(0,-3.43)(0,3.57)(0.5,3.92)(1,3.57)(1,-3.43)(0.5,-3.78)(0,-3.43)} -- cycle;
\end{axis}
\begin{axis}[bandax, at={(789pt,385pt)}, point meta min=-9.6, point meta max=4.41]
\addplot3[surf, shader=interp, mesh/rows=2, mesh/cols=2] coordinates {(0,0,-9.6)(1,0,-9.6)(0,1,4.41)(1,1,4.41)};
\end{axis}
\begin{axis}[cbarax, at={(789pt,385pt)}, ymin=-9.6, ymax=4.41,
 ytick={-8.63,-7.18,-5.73,-4.28,-2.84,-1.39,0.06,1.51,2.96,4.41},
 yticklabels={-8.63,-7.18,-5.73,-4.28,-2.84,-1.39,0.06,1.51,2.96,4.41}]
\addplot[draw=none,fill={rgb,255:red,103;green,0;blue,13}] coordinates {(0,4.41)(0.5,5.1)(1,4.41)} -- cycle;
\addplot[draw=none,fill={rgb,255:red,255;green,245;blue,240}] coordinates {(0,-9.6)(0.5,-10.29)(1,-9.6)} -- cycle;
\addplot[black,line width=1pt] coordinates {(0,-9.6)(0,4.41)(0.5,5.1)(1,4.41)(1,-9.6)(0.5,-10.29)(0,-9.6)} -- cycle;
\end{axis}
\begin{axis}[bandax, at={(369.25pt,53.75pt)}, point meta min=-11.19, point meta max=2.81]
\addplot3[surf, shader=interp, mesh/rows=2, mesh/cols=2] coordinates {(0,0,-11.19)(1,0,-11.19)(0,1,2.81)(1,1,2.81)};
\end{axis}
\begin{axis}[cbarax, at={(369.25pt,53.75pt)}, ymin=-11.19, ymax=2.81,
 ytick={-10.22,-8.77,-7.32,-5.88,-4.43,-2.98,-1.53,-0.08,1.37,2.81},
 yticklabels={-10.22,-8.77,-7.32,-5.88,-4.43,-2.98,-1.53,-0.08,1.37,2.81}]
\addplot[draw=none,fill={rgb,255:red,103;green,0;blue,13}] coordinates {(0,2.81)(0.5,3.5)(1,2.81)} -- cycle;
\addplot[draw=none,fill={rgb,255:red,255;green,245;blue,240}] coordinates {(0,-11.19)(0.5,-11.88)(1,-11.19)} -- cycle;
\addplot[black,line width=1pt] coordinates {(0,-11.19)(0,2.81)(0.5,3.5)(1,2.81)(1,-11.19)(0.5,-11.88)(0,-11.19)} -- cycle;
\end{axis}
\begin{axis}[bandax, at={(789pt,53.75pt)}, point meta min=-11.04, point meta max=2.97]
\addplot3[surf, shader=interp, mesh/rows=2, mesh/cols=2] coordinates {(0,0,-11.04)(1,0,-11.04)(0,1,2.97)(1,1,2.97)};
\end{axis}
\begin{axis}[cbarax, at={(789pt,53.75pt)}, ymin=-11.04, ymax=2.97,
 ytick={-10.07,-8.62,-7.17,-5.72,-4.28,-2.83,-1.38,0.07,1.52,2.97},
 yticklabels={-10.07,-8.62,-7.17,-5.72,-4.28,-2.83,-1.38,0.07,1.52,2.97}]
\addplot[draw=none,fill={rgb,255:red,103;green,0;blue,13}] coordinates {(0,2.97)(0.5,3.66)(1,2.97)} -- cycle;
\addplot[draw=none,fill={rgb,255:red,255;green,245;blue,240}] coordinates {(0,-11.04)(0.5,-11.73)(1,-11.04)} -- cycle;
\addplot[black,line width=1pt] coordinates {(0,-11.04)(0,2.97)(0.5,3.66)(1,2.97)(1,-11.04)(0.5,-11.73)(0,-11.04)} -- cycle;
\end{axis}
\end{tikzpicture}
\end{document}
